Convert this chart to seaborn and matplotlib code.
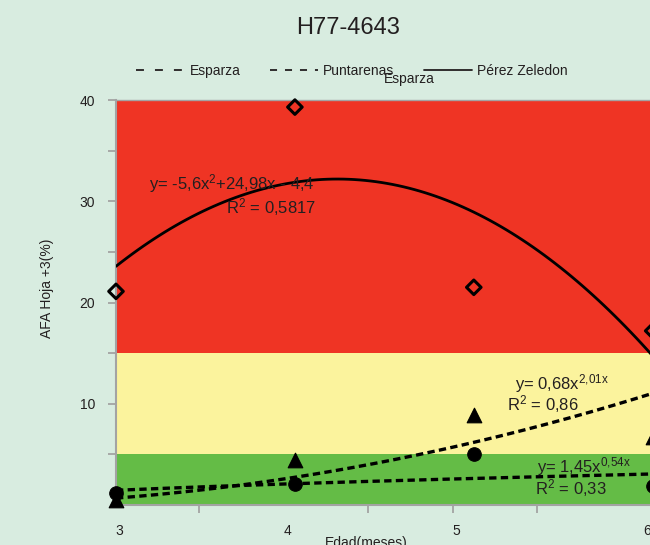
import numpy as np
import pandas as pd
import matplotlib
matplotlib.use("Agg")
import matplotlib.pyplot as plt
from matplotlib.lines import Line2D
import seaborn as sns

# ---- data ----
edad = [3, 4, 5, 6]
perez_zeledon = [21.1, 39.3, 21.5, 17.2]
puntarenas = [0.5, 4.4, 8.9, 6.7]
esparza = [1.2, 2.1, 5.0, 1.9]
puntarenas_fit = (0.68, 2.01)   # y = a * x^b (x coded 1..4)
esparza_fit = (1.45, 0.54)
band_limits = [0, 5, 15, 40]
y_ticks = [10, 20, 30, 40]
x_ticklabels = ["3", "4", "5", "6"]
legend_labels = ["Esparza", "Puntarenas", "Pérez Zeledon"]

BG = "#d8ece0"
TXT = "#231f20"
GRAY = "#a3a3a3"
band_colors = ["#64bc46", "#fbf39d", "#ef3424"]

sns.set_theme(style="white")
plt.rcParams["font.family"] = ["Liberation Sans", "DejaVu Sans"]
plt.rcParams["mathtext.fontset"] = "custom"
plt.rcParams["mathtext.rm"] = "Liberation Sans"
plt.rcParams["mathtext.it"] = "Liberation Sans:italic"
plt.rcParams["mathtext.bf"] = "Liberation Sans:bold"

fig = plt.figure(figsize=(6.5, 5.45), dpi=100, facecolor=BG)
ax = fig.add_axes([116 / 650, 1 - 505 / 545, 1 - 116 / 650, 405 / 545])
ax.set_facecolor(BG)

for lo, hi, c in zip(band_limits[:-1], band_limits[1:], band_colors):
    ax.axhspan(lo, hi, color=c, lw=0, zorder=0)

df = pd.DataFrame({"edad": edad, "pz": perez_zeledon, "pu": puntarenas, "es": esparza})

# quadratic trend for Pérez Zeledon
sns.regplot(data=df, x="edad", y="pz", order=2, ci=None, scatter=False, ax=ax,
            line_kws=dict(color="black", lw=2.0, zorder=3))

# power trends
xs = np.linspace(edad[0], edad[-1], 200)
code = xs - (edad[0] - 1)
a, b = puntarenas_fit
ax.plot(xs, a * code ** b, color="black", lw=2.4, ls=(0, (2.2, 1.3)), zorder=3)
a, b = esparza_fit
ax.plot(xs, a * code ** b, color="black", lw=2.4, ls=(0, (2.2, 1.3)), zorder=3)

sns.scatterplot(data=df, x="edad", y="pu", marker="^", s=110, color="black",
                edgecolor="black", ax=ax, zorder=4, clip_on=False)
sns.scatterplot(data=df, x="edad", y="es", marker="o", s=95, color="black",
                edgecolor="black", ax=ax, zorder=4, clip_on=False)
ax.scatter(df["edad"], df["pz"], marker="D", s=55, facecolors="none",
           edgecolors="black", linewidths=2.2, zorder=4, clip_on=False)

ax.set_xlim(3, 5.985)
ax.set_ylim(0, 40)
ax.set_xticks([3.017, 3.96, 4.905, 5.97])
ax.set_xticklabels(x_ticklabels)
ax.set_xticks([3.464, 4.408, 4.883, 5.352], minor=True)
ax.set_yticks(y_ticks)
ax.set_yticklabels([str(v) for v in y_ticks])
ax.set_yticks([5, 15, 25, 35], minor=True)
ax.tick_params(axis="x", which="major", length=0, pad=14, labelsize=10, labelcolor=TXT)
ax.tick_params(axis="x", which="minor", length=6, width=1.3, color=GRAY, direction="out", bottom=True)
ax.tick_params(axis="y", which="both", length=6, width=1.3, color=GRAY, direction="out", left=True,
               pad=9, labelsize=10, labelcolor=TXT)

for s in ["left", "bottom", "top"]:
    ax.spines[s].set_color(GRAY)
    ax.spines[s].set_linewidth(1.5)
ax.spines["right"].set_visible(False)
ax.spines["top"].set_linewidth(1.0)

ax.set_xlabel("Edad(meses)", fontsize=10, color=TXT)
ax.set_ylabel("AFA Hoja +3(%)", fontsize=10, color=TXT)
ax.xaxis.set_label_coords(0.468, -0.077)
ax.yaxis.set_label_coords(-0.117, 0.536)

fs = 12
ax.text(3.184, 31.7, r"y= -5,6x$^{\mathrm{2}}$+24,98x - 4,4", fontsize=fs, color=TXT, va="center", zorder=5)
ax.text(3.615, 29.4, r"R$^{\mathrm{2}}$ = 0,5817", fontsize=fs, color=TXT, va="center", zorder=5)
ax.text(5.229, 12.0, r"y= 0,68x$^{\mathrm{2{,}01x}}$", fontsize=fs, color=TXT, va="center", zorder=5)
ax.text(5.184, 10.0, r"R$^{\mathrm{2}}$ = 0,86", fontsize=fs, color=TXT, va="center", zorder=5)
ax.text(5.352, 3.76, r"y= 1,45x$^{\mathrm{0{,}54x}}$", fontsize=fs, color=TXT, va="center", zorder=5)
ax.text(5.341, 1.68, r"R$^{\mathrm{2}}$ = 0,33", fontsize=fs, color=TXT, va="center", zorder=5)

fig.text(348 / 650, 1 - 28 / 545, "H77-4643", fontsize=17, color=TXT, ha="center", va="center")

handles = [
    Line2D([], [], color=TXT, lw=1.3, ls=(0, (4.4, 6.1))),
    Line2D([], [], color=TXT, lw=1.3, ls=(0, (3.9, 4.4))),
    Line2D([], [], color=TXT, lw=1.3, ls="-"),
]
fig.legend(handles, legend_labels, loc="center", bbox_to_anchor=(352 / 650, 1 - 71 / 545),
           ncol=3, frameon=False, fontsize=10, handlelength=3.5, handletextpad=0.35,
           columnspacing=2.1, labelcolor=TXT)
fig.text(409 / 650, 1 - 79 / 545, "Esparza", fontsize=10, color=TXT, ha="center", va="center")

fig.savefig("out.png", dpi=100, facecolor=BG)
